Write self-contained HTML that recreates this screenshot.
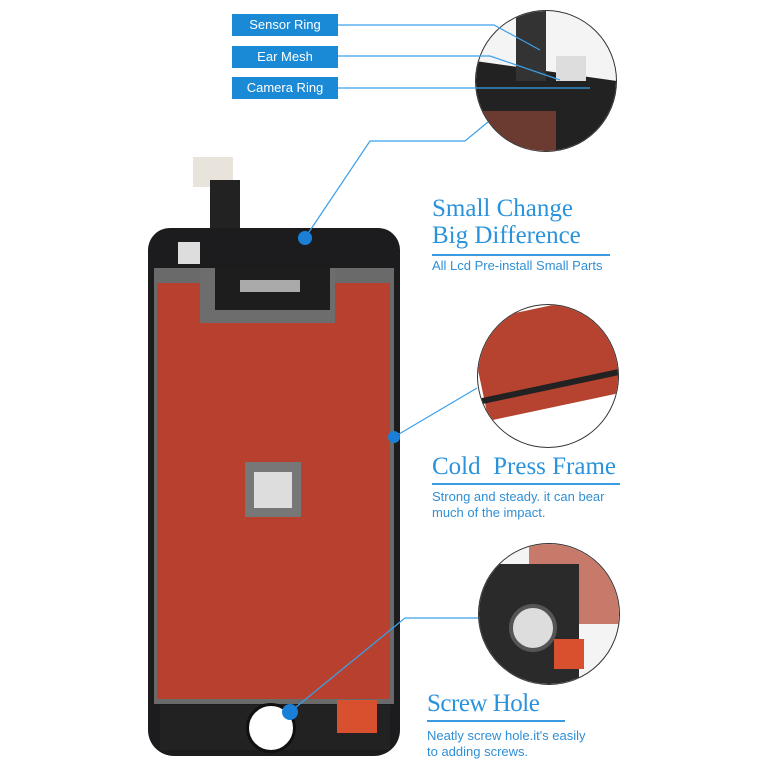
<!DOCTYPE html>
<html><head><style>
body{margin:0;width:780px;height:780px;background:#fff;position:relative;overflow:hidden;font-family:"Liberation Sans",sans-serif}
.a{position:absolute}
.lab{position:absolute;left:232px;width:106px;height:22px;background:#1b8ad6;color:#fff;font-size:13px;line-height:22px;text-align:center}
.t{position:absolute;left:432px;font-family:"Liberation Serif",serif;color:#2a93dc;font-size:25px;line-height:27px}
.d{position:absolute;left:432px;color:#2f8fd6;font-size:13px;line-height:16px}
.u{position:absolute;left:432px;height:2px;background:#3a9be0}
</style></head><body>
<!-- phone -->
<div class="a" style="left:193px;top:157px;width:40px;height:30px;background:#e8e4dc"></div>
<div class="a" style="left:210px;top:180px;width:30px;height:90px;background:#222"></div>
<div class="a" style="left:148px;top:228px;width:252px;height:528px;background:#1c1c1e;border-radius:22px 22px 26px 26px"></div>
<div class="a" style="left:154px;top:268px;width:240px;height:436px;background:#6a6a6a"></div>
<div class="a" style="left:157px;top:283px;width:233px;height:416px;background:#b8402e"></div>
<div class="a" style="left:200px;top:268px;width:135px;height:55px;background:#6d6d6d"></div>
<div class="a" style="left:215px;top:268px;width:115px;height:42px;background:#1d1d1d"></div>
<div class="a" style="left:240px;top:280px;width:60px;height:12px;background:#aaa"></div>
<div class="a" style="left:178px;top:242px;width:22px;height:22px;background:#ddd"></div>
<div class="a" style="left:245px;top:462px;width:56px;height:55px;background:#777"></div>
<div class="a" style="left:254px;top:472px;width:38px;height:36px;background:#ddd"></div>
<div class="a" style="left:160px;top:705px;width:230px;height:45px;background:#222"></div>
<div class="a" style="left:337px;top:700px;width:40px;height:33px;background:#d9502e"></div>
<div class="a" style="left:246px;top:703px;width:44px;height:44px;background:#fff;border-radius:50%;border:3px solid #111"></div>
<!-- circles -->
<div class="a" style="left:475px;top:10px;width:140px;height:140px;border-radius:50%;border:1px solid #333;overflow:hidden;background:#f4f4f4">
 <div class="a" style="left:0;top:60px;width:140px;height:80px;background:#222;transform:skewY(8deg)"></div>
 <div class="a" style="left:0;top:100px;width:80px;height:40px;background:#6b3a30"></div>
 <div class="a" style="left:40px;top:0;width:30px;height:70px;background:#333"></div>
 <div class="a" style="left:80px;top:45px;width:30px;height:25px;background:#ddd"></div>
</div>
<div class="a" style="left:477px;top:304px;width:140px;height:142px;border-radius:50%;border:1px solid #333;overflow:hidden;background:#fff">
 <div class="a" style="left:-10px;width:160px;height:100px;background:#b5432f;transform:rotate(-12deg);transform-origin:0 0;top:18px"></div>
 <div class="a" style="left:-10px;top:96px;width:160px;height:6px;background:#222;transform:rotate(-12deg);transform-origin:0 0"></div>
</div>
<div class="a" style="left:478px;top:543px;width:140px;height:140px;border-radius:50%;border:1px solid #333;overflow:hidden;background:#f4f4f4">
 <div class="a" style="left:50px;top:0;width:100px;height:80px;background:#c87a6a"></div>
 <div class="a" style="left:0;top:20px;width:100px;height:120px;background:#2a2a2a"></div>
 <div class="a" style="left:30px;top:60px;width:40px;height:40px;background:#ddd;border-radius:50%;border:4px solid #555"></div>
 <div class="a" style="left:75px;top:95px;width:30px;height:30px;background:#d9502e"></div>
</div>
<!-- lines -->
<svg class="a" style="left:0;top:0" width="780" height="780">
<g stroke="#3aa0ea" stroke-width="1.2" fill="none">
<polyline points="338,25 494,25 540,50"/>
<polyline points="338,56 490,56 560,80"/>
<polyline points="338,88 590,88"/>
<polyline points="305,238 370,141 465,141 488,122"/>
<polyline points="394,437 477,388"/>
<polyline points="290,712 405,618 478,618"/>
</g>
<circle cx="305" cy="238" r="7" fill="#1a7fd6"/>
<circle cx="394" cy="437" r="6" fill="#1a7fd6"/>
<circle cx="290" cy="712" r="8" fill="#1a7fd6"/>
</svg>
<div class="lab" style="top:14px">Sensor Ring</div>
<div class="lab" style="top:46px">Ear Mesh</div>
<div class="lab" style="top:77px">Camera Ring</div>
<div class="t" style="top:195px">Small Change</div>
<div class="t" style="top:222px">Big Difference</div>
<div class="u" style="top:254px;width:178px"></div>
<div class="d" style="top:258px">All Lcd Pre-install Small Parts</div>
<div class="t" style="top:453px">Cold&nbsp; Press Frame</div>
<div class="u" style="top:483px;width:188px"></div>
<div class="d" style="top:489px">Strong and steady. it can bear<br>much of the impact.</div>
<div class="t" style="top:690px;left:427px;letter-spacing:-0.5px">Screw Hole</div>
<div class="u" style="top:720px;left:427px;width:138px"></div>
<div class="d" style="top:728px;left:427px">Neatly screw hole.it's easily<br>to adding screws.</div>
</body></html>
